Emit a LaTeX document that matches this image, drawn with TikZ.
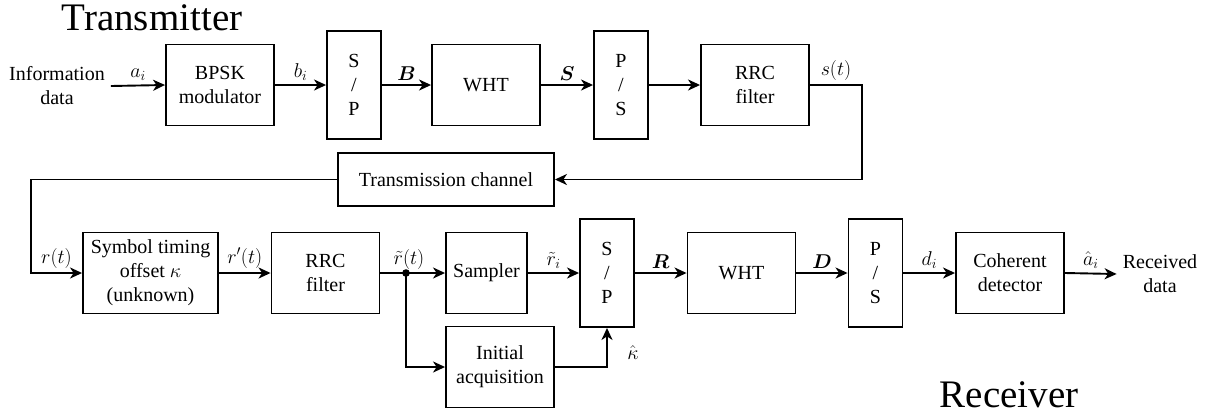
\RequirePackage{fix-cm}
\documentclass[tikz,border=0pt]{standalone}
\usepackage{fontspec}
\setmainfont{Liberation Serif}
\usepackage{bm}
\usetikzlibrary{arrows.meta,calc}
\tikzset{
  blk/.style={draw, line width=1.9pt, align=center, inner sep=2pt, minimum width=108pt, minimum height=81pt},
  sp/.style={blk, minimum width=54pt, minimum height=108pt},
  conn/.style={line width=1.9pt},
  arr/.style={conn, -{Stealth[length=12pt,width=11pt,inset=3.6pt]}},
  lbl/.style={above, inner sep=4pt},
  title/.style={font=\fontsize{39}{46}\selectfont, anchor=base},
  plain/.style={align=center, inner sep=6pt}
}
\begin{document}
\fontsize{20}{24}\selectfont
\begin{tikzpicture}[x=1pt,y=-1pt]
\useasboundingbox (0,0) rectangle (1207,416);
% titles
\node[title] (ttx) at (152,30) {Transmitter};
\node[title] (trx) at (1009,407) {Receiver};
% transmitter row
\node[plain] (info) at (57,86) {Information\\data};
\node[blk] (bpsk) at (220,85) {BPSK\\modulator};
\node[sp] (sp1) at (354,85) {S\\/\\P};
\node[blk] (wht1) at (486,85) {WHT};
\node[sp] (ps1) at (621,85) {P\\/\\S};
\node[blk] (rrc1) at (755,85) {RRC\\filter};
% channel
\node[blk, minimum width=216pt, minimum height=53pt] (chan) at (446,179.5) {Transmission channel};
% receiver row
\node[blk, minimum width=135pt] (sto) at (150.5,273) {Symbol timing\\offset $\kappa$\\(unknown)};
\node[blk] (rrc2) at (325.5,273) {RRC\\filter};
\node[blk, minimum width=81pt] (samp) at (486.5,273) {Sampler};
\node[sp] (sp2) at (607,273) {S\\/\\P};
\node[blk] (wht2) at (741.5,273) {WHT};
\node[sp] (ps2) at (875.5,273) {P\\/\\S};
\node[blk] (coh) at (1010,273) {Coherent\\detector};
\node[plain] (rx) at (1160,274) {Received\\data};
\node[blk] (init) at (500,367) {Initial\\acquisition};
\coordinate (sc) at (862,85);
\coordinate (lc) at (31,179.5);
\coordinate (j) at (406,273);
\coordinate (kc) at (607,367);
% transmitter connectors
\draw[arr] (info.east) -- node[lbl]{$a_i$} (bpsk.west);
\draw[arr] (bpsk.east) -- node[lbl]{$b_i$} (sp1.west);
\draw[arr] (sp1.east) -- node[lbl]{$\bm{B}$} (wht1.west);
\draw[arr] (wht1.east) -- node[lbl]{$\bm{S}$} (ps1.west);
\draw[arr] (ps1.east) -- (rrc1.west);
\draw[arr] (rrc1.east) -- node[lbl]{$s(t)$} (sc) |- (chan.east);
% channel to receiver
\draw[arr] (chan.west) -- (lc) |- node[lbl, pos=0.75]{$r(t)$} (sto.west);
\draw[arr] (sto.east) -- node[lbl]{$r'(t)$} (rrc2.west);
\draw[conn] (rrc2.east) -- (j);
\draw[arr] (j) -- (samp.west);
\fill (j) circle (3.8);
\node[lbl] (rtl) at ([xshift=3pt,yshift=-1pt]j) {$\tilde{r}(t)$};
\draw[arr] (j) |- (init.west);
\draw[arr] (samp.east) -- node[lbl]{$\tilde{r}_i$} (sp2.west);
\draw[arr] (init.east) -- (kc) -- (sp2.south);
\node (kh) at (633,353) {$\hat{\kappa}$};
\draw[arr] (sp2.east) -- node[lbl]{$\bm{R}$} (wht2.west);
\draw[arr] (wht2.east) -- node[lbl]{$\bm{D}$} (ps2.west);
\draw[arr] (ps2.east) -- node[lbl]{$d_i$} (coh.west);
\draw[arr] (coh.east) -- node[lbl]{$\hat{a}_i$} (rx.west);
\end{tikzpicture}
\end{document}
